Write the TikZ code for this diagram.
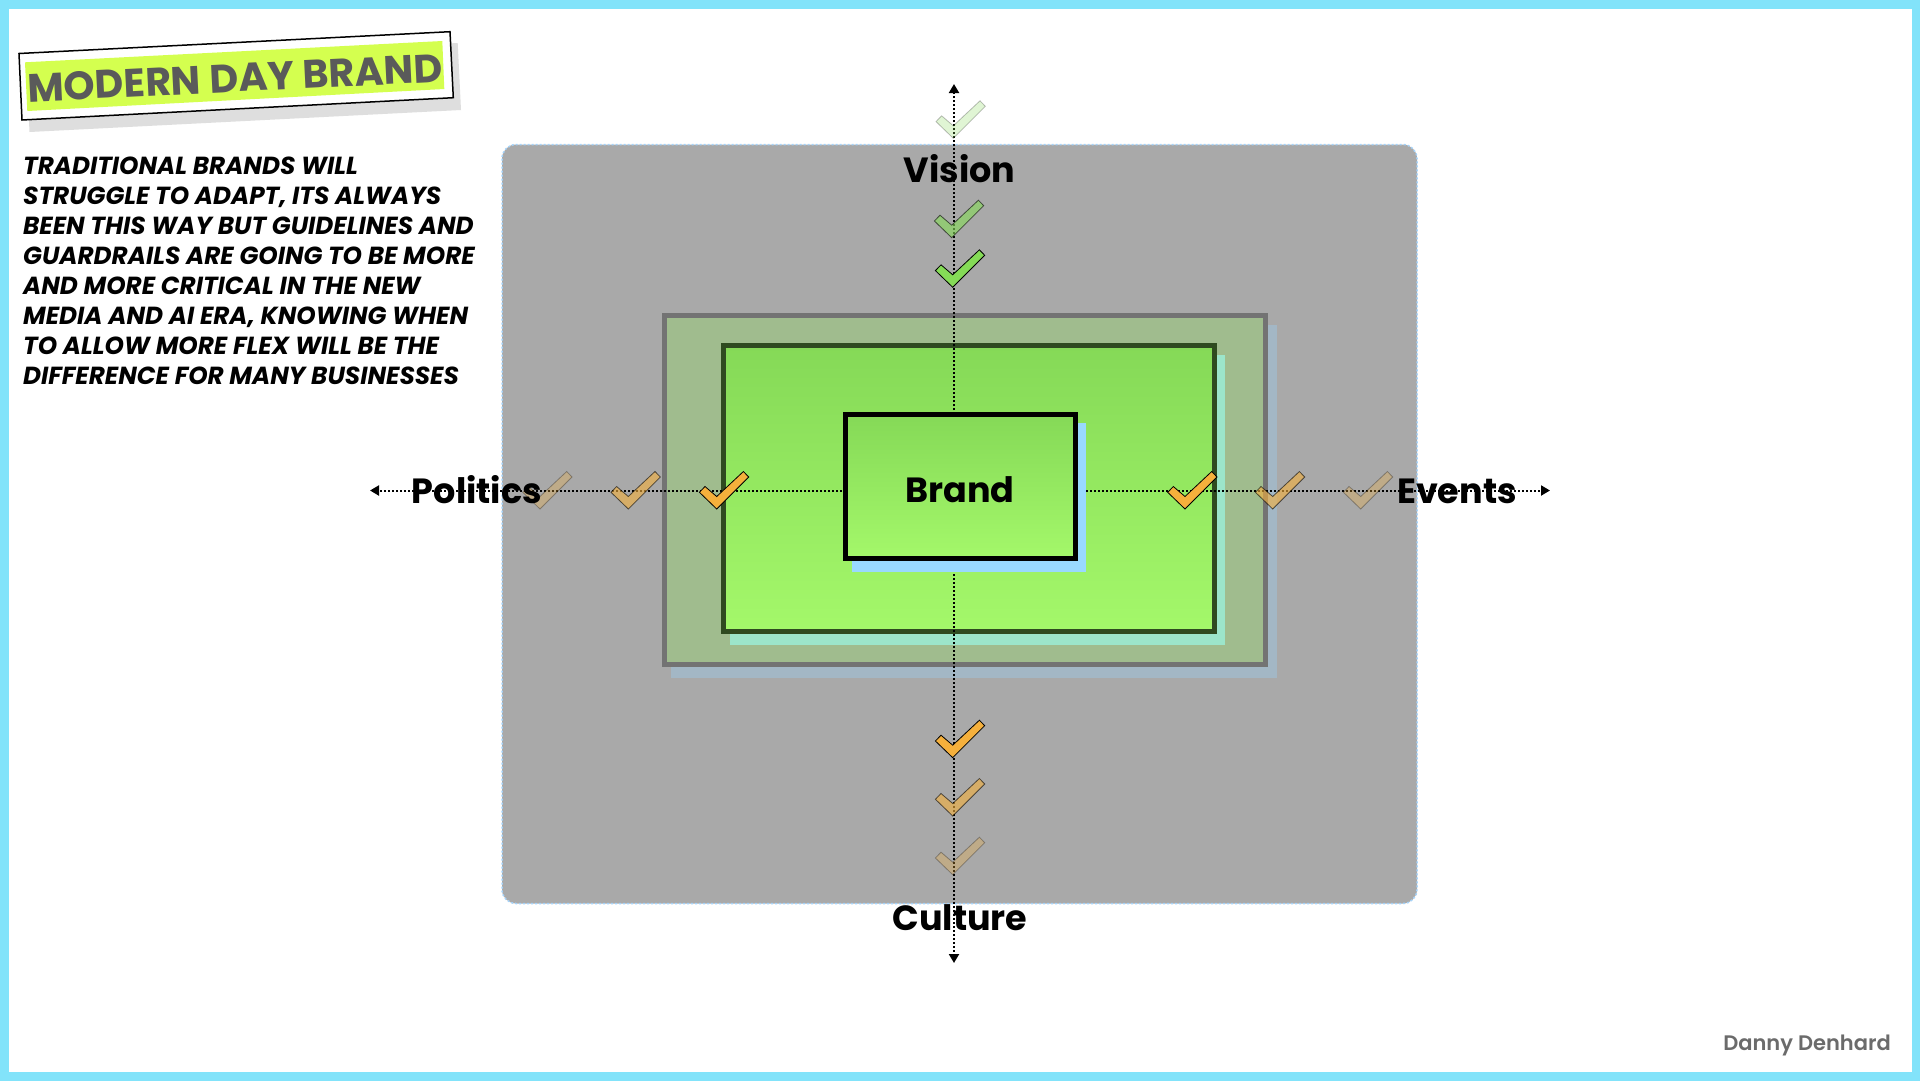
\documentclass[tikz,border=0pt]{standalone}
\usepackage{fontspec}
\setmainfont{Poppins}[BoldFont=Poppins SemiBold,BoldItalicFont=Poppins Bold Italic]
\newfontfamily\heavy{Poppins Bold}
\usetikzlibrary{arrows.meta}
\definecolor{frame}{HTML}{82E3FA}
\definecolor{panelline}{HTML}{A5D3FA}
\definecolor{panel}{HTML}{A9A9A9}
\definecolor{sage}{HTML}{A0BC8E}
\definecolor{sagestroke}{HTML}{737373}
\definecolor{sageshadow}{HTML}{A3B7C5}
\definecolor{midstroke}{HTML}{2F4A20}
\definecolor{midshadow}{HTML}{9CE5CA}
\definecolor{brandshadow}{HTML}{99D9FF}
\definecolor{greentop}{HTML}{85D957}
\definecolor{greenbot}{HTML}{A4F86A}
\definecolor{ticka}{HTML}{85DB57}
\definecolor{tickb}{HTML}{F5B03C}
\definecolor{lime}{HTML}{D4FF4F}
\definecolor{ink}{HTML}{5A5A5A}
\tikzset{
  x=1pt,y=-1pt,
  label text/.style={font=\fontsize{35}{35}\selectfont\heavy,text=black,inner sep=0pt},
  axis/.style={line width=2pt,dash pattern=on 2pt off 2pt,-{Triangle[length=9pt,width=10pt]},black},
  tickmark/.style={draw=black,line width=0.8pt,line join=miter},
}
\newcommand{\tickat}[4]{% x y colour opacity
  \path[tickmark,fill=#3,opacity=#4] (#1,#2) -- ++(-17.3,-16.7) -- ++(5.6,-5.8) -- ++(11.7,10) -- ++(26.7,-25) -- ++(5.3,5.5) -- cycle;
}
\begin{document}
\begin{tikzpicture}
\useasboundingbox (0,0) rectangle (1920,1080);
\fill[white] (0,0) rectangle (1920,1080);
\draw[frame,line width=9pt] (4,4) rectangle (1916,1076);
% title
\fill[black!13] (26.5,65) -- (457.7,43) -- (461,110) -- (29.5,132) -- cycle;
\draw[black,fill=white,line width=1.5pt] (19,53.5) -- (450,31.7) -- (453.3,97.7) -- (22,120) -- cycle;
\fill[lime] (25,62.3) -- (442.3,41) -- (444.3,89) -- (27.3,111) -- cycle;
\node[rotate=2.83,font=\fontsize{39.7}{39.7}\selectfont\heavy,text=ink,inner sep=0pt] (title) at (235,78) {MODERN DAY BRAND};
% paragraph
\node[anchor=north west,align=left,inner sep=0pt,font=\fontsize{24.7}{30}\selectfont\bfseries\itshape] (para) at (23,157) {TRADITIONAL BRANDS WILL\\STRUGGLE TO ADAPT, ITS ALWAYS\\BEEN THIS WAY BUT GUIDELINES AND\\GUARDRAILS ARE GOING TO BE MORE\\AND MORE CRITICAL IN THE NEW\\MEDIA AND AI ERA, KNOWING WHEN\\TO ALLOW MORE FLEX WILL BE THE\\DIFFERENCE FOR MANY BUSINESSES};
% panel
\fill[panel,rounded corners=14pt] (502,144.5) rectangle (1417,903.5);
\draw[panelline,line width=1.5pt,dash pattern=on 2pt off 2pt,rounded corners=14pt] (502,144.5) rectangle (1417,903.5);
% nested
\fill[sageshadow] (671,325) rectangle (1277,678);
\fill[sage,draw=sagestroke,line width=5pt] (664.5,315.5) rectangle (1265.5,664.5);
\fill[midshadow] (730,355) rectangle (1225,645);
\shade[top color=greentop,bottom color=greenbot,draw=midstroke,line width=5pt] (723.5,345.5) rectangle (1214.5,631);
% axes
\coordinate (vtop) at (954,84);
\coordinate (vbot) at (954,963);
\coordinate (hleft) at (370,490.5);
\coordinate (hright) at (1550,490.5);
\draw[axis] (954,490) -- (vtop);
\draw[axis] (954,490) -- (vbot);
\draw[axis] (954,490.5) -- (hleft);
\draw[axis] (954,490.5) -- (hright);
% brand
\fill[brandshadow] (851.7,423) rectangle (1086,572);
\shade[top color=greentop,bottom color=greenbot,draw=black,line width=5pt] (845,414) rectangle (1075,558.7);
\node[label text] (brand) at (960,490) {Brand};
% ticks
\tickat{953.3}{138.3}{ticka}{0.25}
\tickat{951.7}{237.7}{ticka}{0.6}
\tickat{952.7}{287.3}{ticka}{1}
\tickat{952.7}{757.7}{tickb}{1}
\tickat{952.7}{816}{tickb}{0.6}
\tickat{952.7}{874.7}{tickb}{0.3}
\tickat{540}{509}{tickb}{0.3}
\tickat{628.3}{509}{tickb}{0.6}
\tickat{716.7}{509}{tickb}{1}
\tickat{1185}{509}{tickb}{1}
\tickat{1272.7}{509}{tickb}{0.6}
\tickat{1360.7}{509}{tickb}{0.3}
% labels
\node[label text] (vision) at (959.5,168.5) {Vision};
\node[label text] (culture) at (960,918) {Culture};
\node[label text] (politics) at (477,490) {Politics};
\node[label text] (events) at (1457,491) {Events};
\node[anchor=east,inner sep=0pt,text=ink!90,font=\fontsize{21}{21}\selectfont\bfseries] (credit) at (1891,1045) {Danny Denhard};
\end{tikzpicture}
\end{document}
